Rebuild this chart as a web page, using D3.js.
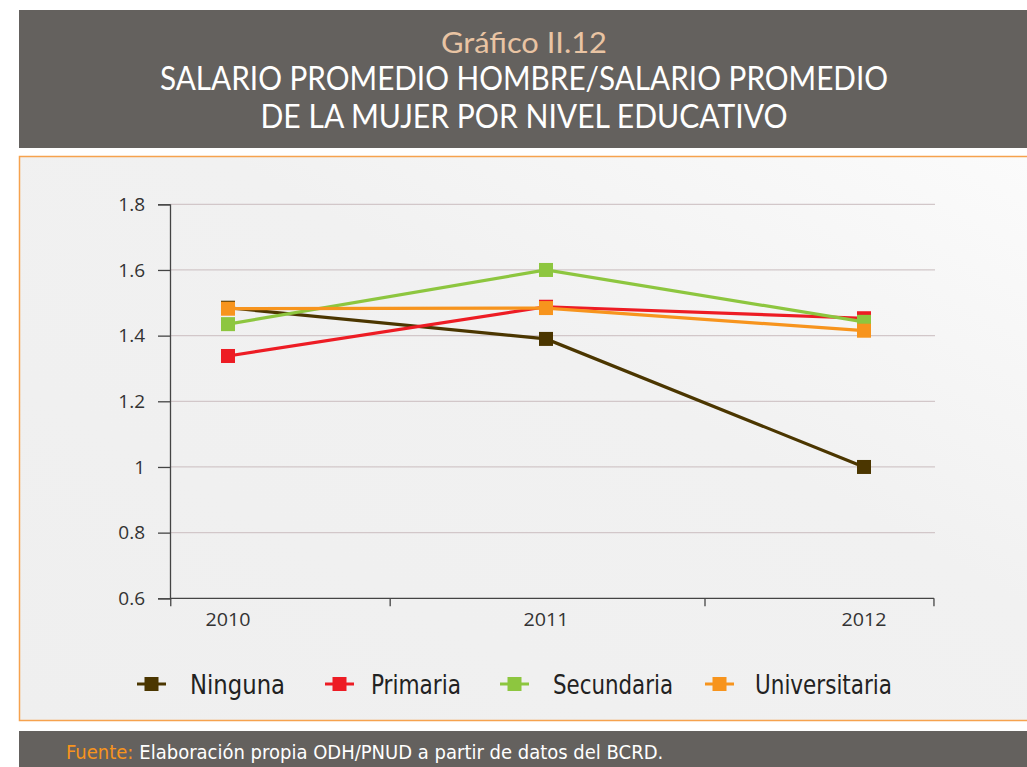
<!DOCTYPE html>
<html>
<head>
<meta charset="utf-8">
<script src="https://cdn.jsdelivr.net/npm/d3@7"></script>
<style>
html,body{margin:0;padding:0;background:#ffffff;}
svg{display:block;}
</style>
</head>
<body>
<svg id="chart" width="1027" height="767"></svg>
<script>
const titleTop = "Gráfico II.12";
const titleLines = ["SALARIO PROMEDIO HOMBRE/SALARIO PROMEDIO", "DE LA MUJER POR NIVEL EDUCATIVO"];
const years = ["2010", "2011", "2012"];
const seriesNames = ["Ninguna", "Primaria", "Secundaria", "Universitaria"];
const ninguna = [1.485, 1.39, 1.0];
const primaria = [1.338, 1.488, 1.453];
const secundaria = [1.435, 1.6, 1.442];
const universitaria = [1.482, 1.484, 1.415];
const seriesColors = ["#4b3600", "#ed1c24", "#8dc63f", "#f7941d"];
const yTicks = [0.6, 0.8, 1, 1.2, 1.4, 1.6, 1.8];
const xTickBounds = [-0.18, 0.51, 1.5, 2.22];
const sourceLabel = "Fuente:";
const sourceText = "Elaboración propia ODH/PNUD a partir de datos del BCRD.";

const seriesValues = [ninguna, primaria, secundaria, universitaria];
const svg = d3.select("#chart");
const W = 1027, H = 767;

// header
svg.append("rect").attr("x", 19).attr("y", 10).attr("width", W - 19).attr("height", 138).attr("fill", "#64615e");
const tf = "'Lato','Open Sans',sans-serif";
svg.append("text").attr("x", 524).attr("y", 53).attr("text-anchor", "middle")
  .attr("font-family", tf).attr("font-size", 29).attr("fill", "#e9c4a3")
  .attr("textLength", 166).attr("lengthAdjust", "spacingAndGlyphs").text(titleTop);
const tl = [[90, 728], [128, 527]];
titleLines.forEach((t, i) => {
  svg.append("text").attr("x", 524).attr("y", tl[i][0]).attr("text-anchor", "middle")
    .attr("font-family", tf).attr("font-size", 32).attr("fill", "#ffffff")
    .attr("textLength", tl[i][1]).attr("lengthAdjust", "spacingAndGlyphs").text(t);
});

// chart panel
const defs = svg.append("defs");
const grad = defs.append("linearGradient").attr("id", "bg").attr("x1", "0%").attr("y1", "100%").attr("x2", "100%").attr("y2", "0%");
grad.append("stop").attr("offset", "0%").attr("stop-color", "#efefef");
grad.append("stop").attr("offset", "60%").attr("stop-color", "#f1f1f1");
grad.append("stop").attr("offset", "100%").attr("stop-color", "#fbfbfb");
svg.append("rect").attr("x", 19.5).attr("y", 156.5).attr("width", W - 18).attr("height", 564)
  .attr("fill", "url(#bg)").attr("stroke", "#f6a24e").attr("stroke-width", 1.5);

// footer
svg.append("rect").attr("x", 19).attr("y", 731).attr("width", W - 19).attr("height", 36).attr("fill", "#64615e");
const ff = "'Liberation Sans Narrow','DejaVu Sans Condensed','Roboto',sans-serif";
const ft = svg.append("text").attr("x", 66).attr("y", 759).attr("font-family", ff).attr("font-size", 20);
ft.append("tspan").attr("fill", "#f7941d").text(sourceLabel);
ft.append("tspan").attr("fill", "#ffffff").attr("dx", 6).text(sourceText);

// scales
const plotLeft = 170, plotRight = 935, plotTop = 204.3, plotBottom = 598.3;
const y = d3.scaleLinear().domain([0.6, 1.8]).range([plotBottom, plotTop]);
const xi = d3.scaleLinear().domain([0, 2]).range([228, 864]);

// grid
const g = svg.append("g");
g.selectAll("line.grid").data(yTicks.filter(d => d > 0.6)).enter().append("line")
  .attr("x1", plotLeft).attr("x2", plotRight).attr("y1", d => y(d)).attr("y2", d => y(d))
  .attr("stroke", "#d2c7c9").attr("stroke-width", 1.2);

const tickFont = "'Open Sans','DejaVu Sans',sans-serif";
// y axis
const yAxis = d3.axisLeft(y).tickValues(yTicks).tickSize(12).tickPadding(13).tickFormat(d => String(d));
const ya = g.append("g").attr("transform", `translate(${plotLeft},0)`).call(yAxis);
ya.select(".domain").attr("stroke", "#444").attr("stroke-width", 1.3);
ya.selectAll(".tick line").attr("stroke", "#444").attr("stroke-width", 1.3);
ya.selectAll("text").attr("font-family", tickFont).attr("font-size", 19).attr("fill", "#333");

// x axis
g.append("line").attr("x1", plotLeft).attr("x2", xi(xTickBounds[xTickBounds.length - 1])).attr("y1", plotBottom).attr("y2", plotBottom)
  .attr("stroke", "#444").attr("stroke-width", 1.3);
g.selectAll("line.xt").data(xTickBounds).enter().append("line")
  .attr("x1", d => Math.max(plotLeft, xi(d))).attr("x2", d => Math.max(plotLeft, xi(d)))
  .attr("y1", plotBottom).attr("y2", plotBottom + 8).attr("stroke", "#444").attr("stroke-width", 1.3);
g.selectAll("text.xl").data(years).enter().append("text")
  .attr("x", (d, i) => xi(i)).attr("y", 626).attr("text-anchor", "middle")
  .attr("font-family", tickFont).attr("font-size", 19).attr("fill", "#333")
  .attr("textLength", 45).attr("lengthAdjust", "spacingAndGlyphs").text(d => d);

// lines
const line = d3.line().x((d, i) => xi(i)).y(d => y(d));
const ms = 14;
seriesValues.forEach((vals, si) => {
  const sg = g.append("g");
  sg.append("path").datum(vals).attr("d", line).attr("fill", "none")
    .attr("stroke", seriesColors[si]).attr("stroke-width", 3.2);
  sg.selectAll("rect").data(vals).enter().append("rect")
    .attr("x", (d, i) => xi(i) - ms / 2).attr("y", d => y(d) - ms / 2)
    .attr("width", ms).attr("height", ms).attr("fill", seriesColors[si]);
});

// legend
const legX = [137, 325, 500, 705];
const legTextX = [53, 46, 53, 50];
const legW = [95, 90, 120, 137];
const legY = 684;
const lg = svg.append("g");
seriesNames.forEach((n, i) => {
  const it = lg.append("g").attr("transform", `translate(${legX[i]},${legY})`);
  it.append("line").attr("x1", 0).attr("x2", 29).attr("y1", 0).attr("y2", 0).attr("stroke", seriesColors[i]).attr("stroke-width", 3);
  it.append("rect").attr("x", 7.5).attr("y", -7).attr("width", 14).attr("height", 14).attr("fill", seriesColors[i]);
  it.append("text").attr("x", legTextX[i]).attr("y", 10).attr("font-family", ff).attr("font-size", 27).attr("fill", "#222")
    .attr("textLength", legW[i]).attr("lengthAdjust", "spacingAndGlyphs").text(n);
});
</script>
</body>
</html>
